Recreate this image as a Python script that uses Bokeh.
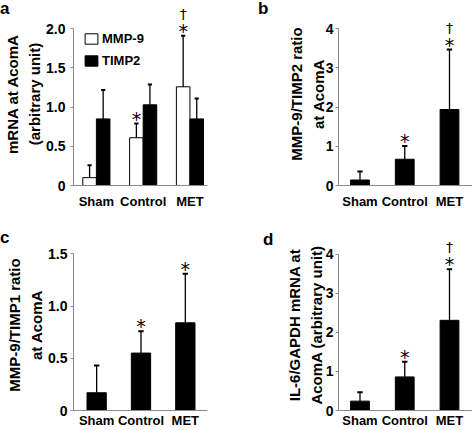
from bokeh.plotting import figure
from bokeh.models import Range1d, Legend, LegendItem, FixedTicker, GridBox, Div
from bokeh.embed import file_html
from bokeh.resources import INLINE
from bokeh.core.properties import value

groups = ["Sham", "Control", "MET"]

# panel a: mRNA at AcomA
a_mmp9 = [0.10, 0.61, 1.26]
a_mmp9_sd = [0.16, 0.18, 0.65]
a_timp2 = [0.85, 1.03, 0.85]
a_timp2_sd = [0.37, 0.26, 0.26]
a_mmp9_star = ["", "*", "*"]
a_mmp9_dagger = ["", "", "†"]
a_yticks = [0, 0.5, 1.0, 1.5, 2.0]
a_ylabels = ["0", "0.5", "1.0", "1.5", "2.0"]

# panel b: MMP-9/TIMP2 ratio
b_ratio = [0.14, 0.67, 1.94]
b_sd = [0.22, 0.34, 1.53]
b_star = ["", "*", "*"]
b_dagger = ["", "", "†"]
b_yticks = [0, 1, 2, 3, 4]
b_ylabels = ["0", "1", "2", "3", "4"]

# panel c: MMP-9/TIMP1 ratio
c_ratio = [0.17, 0.55, 0.84]
c_sd = [0.26, 0.21, 0.47]
c_star = ["", "*", "*"]
c_dagger = ["", "", ""]
c_yticks = [0, 0.5, 1.0, 1.5]
c_ylabels = ["0", "0.5", "1.0", "1.5"]

# panel d: IL-6/GAPDH mRNA
d_il6 = [0.24, 0.86, 2.31]
d_sd = [0.23, 0.39, 1.31]
d_star = ["", "*", "*"]
d_dagger = ["", "", "†"]
d_yticks = [0, 1, 2, 3, 4]
d_ylabels = ["0", "1", "2", "3", "4"]

panel_letters = ["a", "b", "c", "d"]

FONT = "Liberation Sans"
AXIS = "#8a8a8a"


def make_fig(w, h, xr, yr, borders, yticks, ylabels, ylabel,
             tick_standoff, label_standoff, x_standoff):
    l, r, t, b = borders
    p = figure(width=w, height=h, x_range=Range1d(*xr), y_range=Range1d(*yr),
               min_border_left=l, min_border_right=r, min_border_top=t,
               min_border_bottom=b, toolbar_location=None, output_backend="svg",
               title=None)
    p.xgrid.visible = False
    p.ygrid.visible = False
    p.outline_line_color = None
    p.background_fill_alpha = 0
    p.border_fill_alpha = 0
    xs = list(range(len(groups)))
    p.xaxis.ticker = FixedTicker(ticks=xs)
    p.xaxis.major_label_overrides = {i: g for i, g in zip(xs, groups)}
    p.xaxis.major_tick_line_color = None
    p.xaxis.major_tick_in = 0
    p.xaxis.major_tick_out = 0
    p.xaxis.minor_tick_line_color = None
    p.xaxis.minor_tick_in = 0
    p.xaxis.minor_tick_out = 0
    p.xaxis.axis_label_standoff = 0
    p.xaxis.axis_line_color = AXIS
    p.xaxis.major_label_text_font = FONT
    p.xaxis.major_label_text_font_style = "bold"
    p.xaxis.major_label_text_font_size = "13px"
    p.xaxis.major_label_text_color = "black"
    p.xaxis.major_label_standoff = x_standoff

    p.yaxis.ticker = FixedTicker(ticks=yticks)
    p.yaxis.major_label_overrides = {v: s for v, s in zip(yticks, ylabels)}
    p.yaxis.bounds = (yticks[0], yticks[-1])
    p.yaxis.axis_line_color = AXIS
    p.yaxis.major_tick_line_color = AXIS
    p.yaxis.major_tick_in = 0
    p.yaxis.major_tick_out = 3
    p.yaxis.minor_tick_line_color = None
    p.yaxis.minor_tick_in = 0
    p.yaxis.minor_tick_out = 0
    p.yaxis.major_label_text_font = FONT
    p.yaxis.major_label_text_font_style = "bold"
    p.yaxis.major_label_text_font_size = "14px"
    p.yaxis.major_label_text_color = "black"
    p.yaxis.major_label_standoff = tick_standoff
    p.yaxis.axis_label = ylabel
    p.yaxis.axis_label_text_font = FONT
    p.yaxis.axis_label_text_font_style = "bold"
    p.yaxis.axis_label_text_font_size = "15px"
    p.yaxis.axis_label_text_line_height = 1.3
    p.yaxis.axis_label_text_color = "black"
    p.yaxis.axis_label_standoff = label_standoff
    return p


def error_bars(p, xs, means, sds, cap):
    tops = [m + s for m, s in zip(means, sds)]
    p.segment(x0=xs, y0=means, x1=xs, y1=tops, line_color="black", line_width=1.3)
    p.segment(x0=[x - cap for x in xs], y0=tops, x1=[x + cap for x in xs], y1=tops,
              line_color="black", line_width=2)
    return tops


def marks(p, xs, tops, stars, daggers):
    p.text(x=xs, y=tops, text=stars, y_offset=-5, text_align="center",
           text_baseline="alphabetic", text_font=value("DejaVu Sans"),
           text_font_size="19px", text_color="black")
    p.text(x=xs, y=tops, text=daggers, y_offset=-22, text_align="center",
           text_baseline="alphabetic", text_font=value("DejaVu Sans"),
           text_font_size="14px", text_color="black")


def letter_div(txt, top, left):
    html = ('<div style="font: bold 17px/17px \'Liberation Sans\', Arial, sans-serif; '
            'color: black; margin: 0; padding: 0;">%s</div>' % txt)
    return Div(text=html, width=16, height=18, margin=(top, 0, 0, left))


xs = list(range(len(groups)))

# ---- panel a ----  (frame: x 69..237, y 2..185)
pa = make_fig(250, 215, (-0.489, 2.375), (0, 2.336), (69, 13, 2, 30),
              a_yticks, a_ylabels, "mRNA at AcomA\n(arbitrary unit)", 5, 0, 8)
bw_a = 0.29
xa1 = [x - bw_a / 2 for x in xs]
xa2 = [x + bw_a / 2 for x in xs]
r1 = pa.vbar(x=xa1, top=a_mmp9, width=bw_a, fill_color="white", line_color="black", line_width=1)
r2 = pa.vbar(x=xa2, top=a_timp2, width=bw_a, fill_color="black", line_color="black", line_width=1)
ta1 = error_bars(pa, xa1, a_mmp9, a_mmp9_sd, 0.045)
error_bars(pa, xa2, a_timp2, a_timp2_sd, 0.045)
marks(pa, xa1, ta1, a_mmp9_star, a_mmp9_dagger)
leg = Legend(items=[LegendItem(label="MMP-9", renderers=[r1]),
                    LegendItem(label="TIMP2", renderers=[r2])],
             location=(10, 117), margin=0, padding=0, spacing=7,
             glyph_width=16, glyph_height=13, label_height=13, label_standoff=3,
             border_line_color=None, background_fill_alpha=0,
             label_text_font=FONT, label_text_font_style="bold",
             label_text_color="black",
             label_text_font_size="13px", label_text_baseline="middle")
pa.add_layout(leg)

# ---- panel b ----  (frame: x 88..222, y 2..185)
pb = make_fig(222, 215, (-0.48, 2.514), (0, 4.672), (88, 0, 2, 30),
              b_yticks, b_ylabels, "MMP-9/TIMP2 ratio\nat AcomA", 2, -4, 8)
bw = 0.42
pb.vbar(x=xs, top=b_ratio, width=bw, fill_color="black", line_color="black")
tb = error_bars(pb, xs, b_ratio, b_sd, 0.06)
marks(pb, xs, tb, b_star, b_dagger)

# ---- panel c ----  (frame: x 68..207, y 24..197)
pc = make_fig(250, 215, (-0.522, 2.5), (0, 1.638), (68, 43, 24, 18),
              c_yticks, c_ylabels, "MMP-9/TIMP1 ratio\nat AcomA", 3, 0, 2)
bw_c = 0.435
pc.vbar(x=xs, top=c_ratio, width=bw_c, fill_color="black", line_color="black")
tc = error_bars(pc, xs, c_ratio, c_sd, 0.06)
marks(pc, xs, tc, c_star, c_dagger)

# ---- panel d ----  (frame: x 88..222, y 24..197)
pd = make_fig(222, 215, (-0.48, 2.514), (0, 4.380), (88, 0, 24, 18),
              d_yticks, d_ylabels, "IL-6/GAPDH mRNA at\nAcomA (arbitrary unit)", 2, -2, 2)
pd.vbar(x=xs, top=d_il6, width=bw, fill_color="black", line_color="black")
td = error_bars(pd, xs, d_il6, d_sd, 0.06)
marks(pd, xs, td, d_star, d_dagger)

la = letter_div(panel_letters[0], 0, 0)
lb = letter_div(panel_letters[1], 0, 8)
lc = letter_div(panel_letters[2], 14, 0)
ld = letter_div(panel_letters[3], 16, 13)

layout = GridBox(children=[(pa, 0, 0), (pb, 0, 1), (pc, 1, 0), (pd, 1, 1),
                           (la, 0, 0), (lb, 0, 1), (lc, 1, 0), (ld, 1, 1)],
                 spacing=0)
open("out.html", "w").write(file_html(layout, INLINE))
